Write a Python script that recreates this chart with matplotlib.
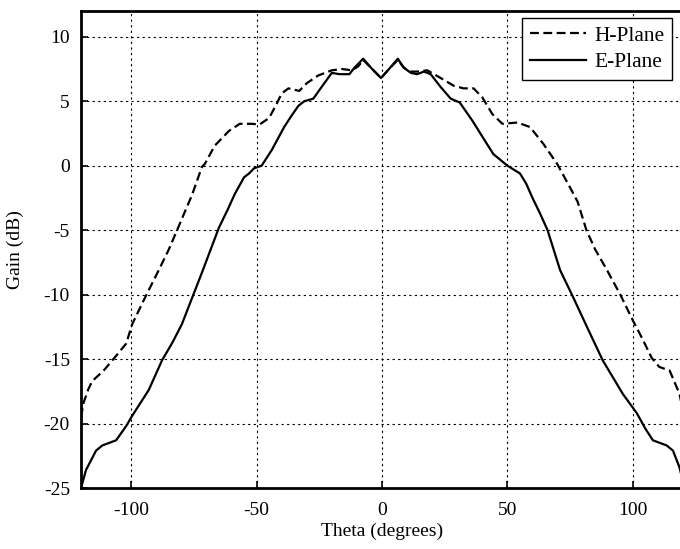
import matplotlib
matplotlib.use('Agg')
import matplotlib.pyplot as plt
import numpy as np

plt.rcParams['font.family'] = ['Liberation Serif', 'DejaVu Serif']
plt.rcParams['axes.unicode_minus'] = False

# H-plane (dashed)
theta_h = [-120, -119, -117, -115.5, -111, -107.5, -102, -99.6, -94.4, -89, -85, -81.7,
           -78, -75.8, -71.8, -70.6, -66.7, -61, -56.7, -52, -48.8, -45, -42, -40, -37.3,
           -33, -30, -25.4, -20, -16, -12, -9.5, -7.5, -4.4, -0.4, 2.8, 6.3, 8.7,
           11.5, 14, 18, 23.4, 28.6, 32.5, 36.5, 40, 44, 48, 54, 59, 64.3, 69.8, 75,
           78, 81.5, 85, 89.7, 95, 100, 104, 107.5, 110.5, 114.7, 118.6, 120]
gain_h = [-19.5, -18.4, -17.3, -16.7, -15.9, -15.1, -13.8, -12.3, -10.2, -8.1, -6.5, -5.0,
          -3.3, -2.3, -0.1, 0.15, 1.55, 2.7, 3.25, 3.25, 3.2, 3.7, 4.8, 5.6, 6.0,
          5.8, 6.4, 7.0, 7.4, 7.5, 7.4, 7.7, 8.2, 7.6, 6.8, 7.5, 8.2, 7.6,
          7.3, 7.3, 7.4, 6.8, 6.2, 6.0, 6.0, 5.3, 4.0, 3.25, 3.35, 3.0, 1.7, 0.15, -1.7,
          -2.8, -5.0, -6.5, -8.1, -10.0, -12.0, -13.5, -14.9, -15.6, -15.9, -17.7, -19.0]

# E-plane (solid)
theta_e = [-120, -118, -114, -111.5, -106, -102, -99.6, -93, -87.7, -83.5, -79.8, -75, -72,
           -68.5, -65, -61.5, -58.7, -55, -53, -51, -48, -44, -39, -36, -33.3, -31, -27.4,
           -23, -20, -17, -13, -11, -7.5, -4.4, -0.4, 2.8, 6.3, 8.7, 11.5, 14, 16.7, 19.4,
           23.4, 27.4, 31, 36, 40.5, 44.4, 50, 55, 57.5, 60, 63, 66, 71, 76.2, 81.7, 88, 96,
           101.6, 105, 108, 113.5, 116, 118.6, 120]
gain_e = [-25, -23.6, -22.1, -21.7, -21.3, -20.2, -19.4, -17.4, -15.1, -13.7, -12.3, -9.9, -8.4,
          -6.6, -4.8, -3.4, -2.2, -0.9, -0.6, -0.2, 0, 1.2, 3.0, 3.9, 4.65, 5.0, 5.2,
          6.4, 7.2, 7.1, 7.1, 7.6, 8.3, 7.6, 6.8, 7.5, 8.3, 7.6, 7.2, 7.1, 7.3, 7.1,
          6.1, 5.2, 4.9, 3.5, 2.1, 0.9, 0, -0.6, -1.4, -2.5, -3.7, -5.0, -8.1, -10.2, -12.5, -15.1, -17.7,
          -19.2, -20.4, -21.3, -21.7, -22.1, -23.4, -24.5]

xticks = [-100, -50, 0, 50, 100]
yticks = [-25, -20, -15, -10, -5, 0, 5, 10]

fig = plt.figure(figsize=(6.8, 5.49), dpi=100)
ax = fig.add_axes([81 / 680, 61 / 549, 602 / 680, 477 / 549])

ax.plot(theta_h, gain_h, color='black', linewidth=1.6, linestyle=(0, (4, 2)), label='H-Plane')
ax.plot(theta_e, gain_e, color='black', linewidth=1.6, label='E-Plane')

ax.set_xlim(-120, 120)
ax.set_ylim(-25, 12)
ax.set_xticks(xticks)
ax.set_yticks(yticks)
ax.grid(True, color='black', linestyle=(0, (2, 3)), linewidth=0.8)
ax.tick_params(direction='in', length=5, labelsize=14, width=1.2)
ax.tick_params(axis='x', pad=10)
ax.tick_params(axis='y', pad=8)

for s in ['left', 'bottom', 'top']:
    ax.spines[s].set_linewidth(2)

ax.set_xlabel('Theta (degrees)', fontsize=14, labelpad=3)
ax.set_ylabel('Gain (dB)', fontsize=14, labelpad=14)

leg = ax.legend(loc='upper right', bbox_to_anchor=(0.982, 0.985), fontsize=15.5,
                fancybox=False, framealpha=1, edgecolor='black', handlelength=2.6,
                borderpad=0.35, labelspacing=0.3, handletextpad=0.4, borderaxespad=0)
leg.get_frame().set_linewidth(1.0)

fig.savefig('out.png', dpi=100)
